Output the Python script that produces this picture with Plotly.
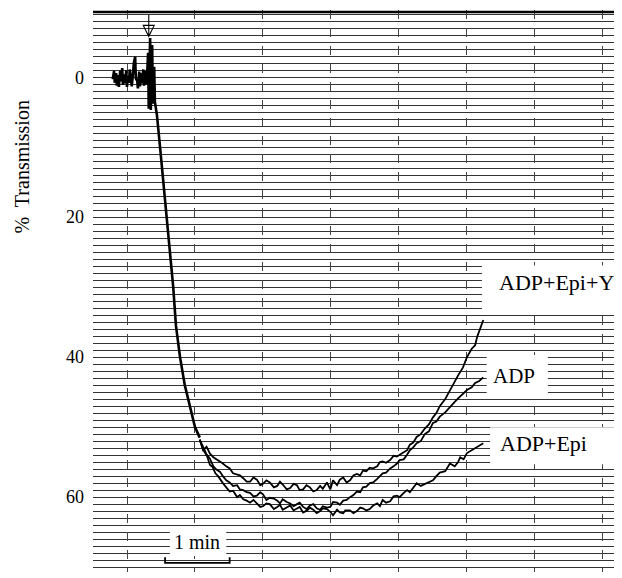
import plotly.graph_objects as go

# time in minutes, % transmission (0 at top)
base_t = [-0.21, -0.19, -0.18, -0.16, -0.15, -0.13, -0.12, -0.10, -0.09, -0.07, -0.06, -0.04,
          -0.03, -0.01, 0.00, 0.01, 0.03, 0.04, 0.06, 0.07, 0.09, 0.10, 0.12, 0.13, 0.15, 0.16,
          0.18, 0.19, 0.21, 0.22, 0.24, 0.25, 0.26, 0.28, 0.29, 0.31, 0.32, 0.34, 0.35, 0.37,
          0.38, 0.40, 0.41, 0.44, 0.49, 0.53, 0.59, 0.63, 0.68, 0.72, 0.78, 0.85, 0.93, 1.00, 1.07]
base_v = [0.3, -0.9, 0.8, -0.6, 1.2, -0.3, 1.4, -0.9, 0.6, -1.3, 1.1, -0.4,
          0.9, -1.0, 1.4, -0.2, 0.8, -1.1, 0.5, 1.3, -0.7, -2.0, -2.9, 0.2, 0.5, 1.6,
          -0.8, 1.3, -0.6, 0.9, -1.1, 1.2, 0.4, -0.9, 1.0, -3.5, 4.5, -5.6, 4.7, -4.6,
          3.8, -1.5, 3.5, 5.4, 10.4, 14.5, 20.0, 25.0, 30.0, 35.5, 40.0, 44.0, 47.0, 50.0, 51.5]

adp_epi_y_t = [1.07, 1.12, 1.17, 1.22, 1.27, 1.32, 1.37, 1.41, 1.46, 1.51, 1.56, 1.62, 1.66,
               1.71, 1.76, 1.81, 1.86, 1.91, 1.96, 2.00, 2.05, 2.10, 2.16, 2.21, 2.25, 2.29,
               2.35, 2.40, 2.45, 2.50, 2.54, 2.59, 2.64, 2.69, 2.74, 2.79, 2.84, 2.88, 2.94,
               2.99, 3.03, 3.09, 3.13, 3.18, 3.23, 3.28, 3.33, 3.38, 3.43, 3.47, 3.52, 3.57,
               3.62, 3.68, 3.72, 3.76, 3.81, 3.87, 3.92, 3.97, 4.01, 4.07, 4.12, 4.16, 4.21,
               4.26, 4.32, 4.38, 4.44, 4.50, 4.55, 4.60, 4.68, 4.75, 4.82, 4.87, 4.94, 5.00,
               5.07, 5.12, 5.15, 5.19, 5.24]
adp_epi_y_v = [51.8, 53.3, 52.8, 53.8, 54.3, 54.6, 54.9, 55.2, 55.6, 55.9, 56.6, 56.8, 56.9,
               57.3, 57.8, 57.8, 57.2, 57.5, 58.3, 58.1, 57.6, 57.9, 58.6, 58.4, 57.8, 58.2,
               58.9, 58.7, 58.1, 58.3, 59.0, 58.9, 58.3, 58.6, 59.2, 59.0, 58.4, 58.8, 57.9,
               58.9, 57.6, 58.3, 57.5, 57.2, 57.9, 57.6, 56.9, 56.7, 56.9, 56.2, 56.3, 55.8,
               55.9, 55.6, 55.0, 54.9, 55.1, 54.7, 54.1, 54.2, 54.0, 53.6, 53.3, 52.5, 52.2,
               51.4, 51.0, 50.2, 49.6, 48.6, 48.0, 47.0, 46.0, 44.7, 43.6, 42.6, 41.5, 40.0,
               38.8, 38.3, 37.1, 36.0, 34.7]

adp_t = [1.07, 1.12, 1.17, 1.22, 1.27, 1.32, 1.37, 1.41, 1.46, 1.51, 1.56, 1.62, 1.66, 1.71,
         1.76, 1.81, 1.86, 1.91, 1.96, 2.00, 2.05, 2.10, 2.16, 2.21, 2.25, 2.29, 2.35, 2.40,
         2.45, 2.50, 2.54, 2.59, 2.64, 2.69, 2.74, 2.79, 2.84, 2.88, 2.94, 2.99, 3.03, 3.09,
         3.13, 3.18, 3.23, 3.28, 3.33, 3.38, 3.43, 3.47, 3.52, 3.57, 3.62, 3.68, 3.72, 3.76,
         3.81, 3.87, 3.92, 3.97, 4.01, 4.07, 4.12, 4.16, 4.21, 4.26, 4.32, 4.38, 4.44, 4.50,
         4.55, 4.60, 4.68, 4.75, 4.82, 4.87, 4.94, 5.00, 5.07, 5.12, 5.18, 5.24]
adp_v = [51.8, 52.9, 53.9, 54.5, 55.6, 56.1, 56.4, 57.0, 57.6, 57.9, 58.4, 58.3, 58.9, 59.0,
         59.3, 59.4, 59.9, 59.8, 59.3, 59.6, 60.4, 60.1, 60.2, 60.5, 60.9, 60.3, 60.7, 60.9,
         61.3, 61.0, 60.8, 61.4, 61.7, 61.2, 61.0, 61.6, 61.8, 61.3, 61.5, 61.4, 60.7, 60.8,
         61.1, 60.5, 60.4, 60.0, 59.7, 59.2, 59.3, 58.6, 58.5, 58.0, 57.9, 57.4, 57.0, 56.6,
         56.5, 55.9, 55.6, 55.2, 54.7, 54.6, 53.9, 53.3, 52.9, 52.3, 52.0, 51.0, 50.6, 49.4,
         49.2, 48.5, 47.9, 47.1, 46.4, 45.9, 45.3, 44.7, 44.3, 43.7, 43.4, 42.9]

adp_epi_t = [1.07, 1.12, 1.18, 1.22, 1.26, 1.30, 1.34, 1.38, 1.41, 1.46, 1.51, 1.56, 1.62, 1.66,
             1.71, 1.76, 1.81, 1.86, 1.91, 1.96, 2.00, 2.05, 2.10, 2.16, 2.21, 2.25, 2.29, 2.35,
             2.40, 2.45, 2.50, 2.54, 2.59, 2.65, 2.69, 2.74, 2.79, 2.84, 2.88, 2.94, 2.99, 3.03,
             3.09, 3.13, 3.18, 3.21, 3.28, 3.33, 3.38, 3.43, 3.47, 3.52, 3.57, 3.62, 3.68, 3.72,
             3.76, 3.81, 3.87, 3.92, 3.97, 4.01, 4.07, 4.12, 4.16, 4.21, 4.26, 4.32, 4.38, 4.44,
             4.50, 4.55, 4.60, 4.68, 4.75, 4.82, 4.87, 4.90, 4.95, 5.00, 5.05, 5.09, 5.16, 5.24]
adp_epi_v = [51.8, 53.2, 54.2, 55.4, 55.7, 56.6, 57.0, 57.6, 58.0, 58.6, 59.2, 59.1, 60.0, 59.7,
             60.3, 60.5, 60.8, 60.4, 60.9, 61.4, 61.3, 60.9, 61.0, 61.7, 61.4, 61.1, 61.8, 61.5,
             61.2, 61.9, 61.6, 61.4, 62.2, 61.9, 61.5, 61.8, 62.3, 62.0, 61.6, 61.7, 62.1, 62.6,
             61.8, 62.2, 62.3, 61.9, 61.9, 62.3, 62.0, 61.5, 61.6, 61.9, 61.7, 61.2, 60.9, 61.3,
             60.4, 60.8, 60.6, 59.9, 59.8, 60.0, 59.4, 59.0, 59.3, 58.6, 58.0, 58.4, 58.1, 57.9,
             57.6, 57.0, 56.5, 56.3, 55.2, 55.6, 55.0, 54.3, 54.6, 53.7, 53.4, 53.1, 52.8, 52.3]

y_ticks = [0, 20, 40, 60]
labels = ["ADP+Epi+Y", "ADP", "ADP+Epi"]

serif = "Liberation Serif, Times New Roman, serif"

fig = go.Figure()
fig.add_trace(go.Scatter(x=base_t, y=base_v, mode="lines",
                         line=dict(color="black", width=2.6), showlegend=False))
for t, v in [(adp_epi_y_t, adp_epi_y_v), (adp_t, adp_v), (adp_epi_t, adp_epi_v)]:
    fig.add_trace(go.Scatter(x=t, y=v, mode="lines",
                             line=dict(color="black", width=1.8), showlegend=False))

shapes = []
# white patches behind the text
for x0, x1, y0, y1 in [(5.22, 7.3, 26.9, 33.3), (5.29, 6.19, 39.7, 45.7),
                       (5.34, 7.3, 50.0, 55.3), (0.63, 1.46, 64.4, 68.4)]:
    shapes.append(dict(type="rect", xref="x", yref="y", x0=x0, x1=x1, y0=y0, y1=y1,
                       fillcolor="white", line=dict(width=0), layer="above"))
# top border
shapes.append(dict(type="line", xref="paper", yref="y", x0=0, x1=1, y0=-9.3, y1=-9.3,
                   line=dict(color="black", width=2.5)))
# 1 min scale bar
shapes.append(dict(type="path", xref="x", yref="y",
                   path="M 0.56,68.6 L 0.56,69.4 L 1.51,69.4 L 1.51,68.6",
                   line=dict(color="black", width=1.8)))
# stimulus arrow
shapes.append(dict(type="path", xref="x", yref="y",
                   path="M 0.32,-8.9 L 0.32,-5.8 M 0.24,-7.4 L 0.32,-5.8 L 0.40,-7.4 Z",
                   line=dict(color="black", width=1.1)))

annotations = [
    dict(x=6.32, y=29.4, text=labels[0], size=22),
    dict(x=5.69, y=42.7, text=labels[1], size=21),
    dict(x=6.12, y=52.4, text=labels[2], size=22),
    dict(x=1.03, y=66.4, text="1 min", size=20),
]
for a in annotations:
    a.update(xref="x", yref="y", showarrow=False,
             font=dict(family=serif, size=a.pop("size"), color="black"))
annotations.append(dict(xref="paper", yref="paper", x=-0.134, y=0.72, xanchor="center",
                        yanchor="middle", text="%  Transmission", textangle=-90, showarrow=False,
                        font=dict(family=serif, size=20, color="black")))

# page body has an 8px margin, so the figure box is shifted; margins compensate
fig.update_layout(
    width=622, height=578,
    margin=dict(l=85, r=8, t=2, b=14),
    plot_bgcolor="white", paper_bgcolor="white",
    shapes=shapes, annotations=annotations,
    xaxis=dict(range=[-0.5, 7.28], dtick=1, tick0=0, showticklabels=False, ticks="",
               showgrid=True, gridcolor="#444", gridwidth=1, griddash="dash",
               zeroline=False, showline=False),
    yaxis=dict(range=[70.7, -9.6], tickvals=y_ticks, ticks="", ticklabelstandoff=8,
               tickfont=dict(family=serif, size=18, color="black"),
               showgrid=True, gridcolor="#333", gridwidth=1.3,
               minor=dict(dtick=1, tick0=0, showgrid=True, gridcolor="#333", gridwidth=1.3),
               zeroline=False, showline=False),
)

fig.write_html("out.html")
